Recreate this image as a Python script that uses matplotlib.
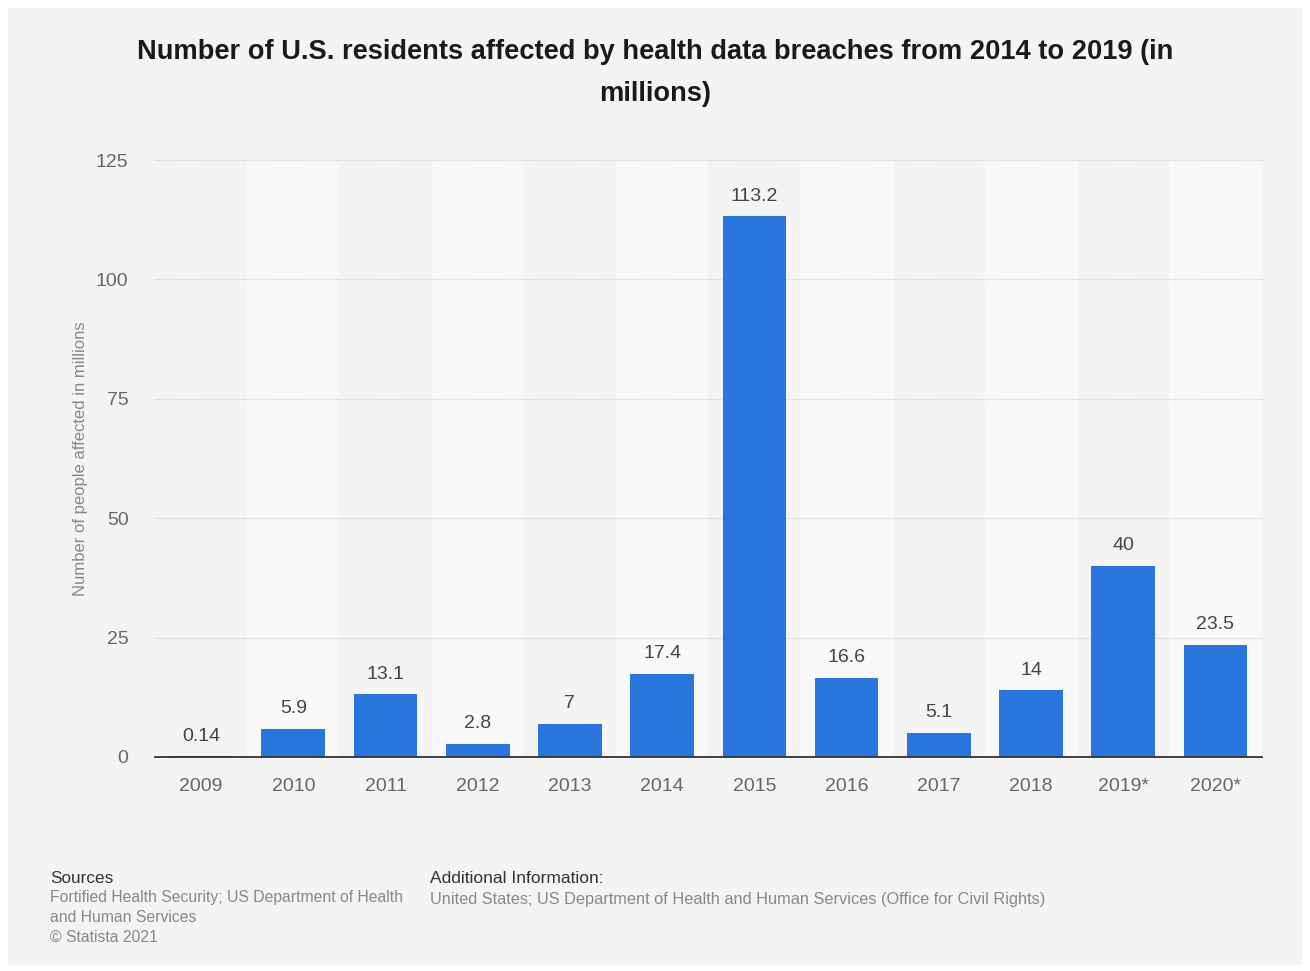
import matplotlib.pyplot as plt
import numpy as np
from matplotlib.patches import Rectangle

plt.rcParams['font.family'] = ['Liberation Sans', 'DejaVu Sans']

years = ['2009', '2010', '2011', '2012', '2013', '2014', '2015', '2016',
         '2017', '2018', '2019*', '2020*']
affected = [0.14, 5.9, 13.1, 2.8, 7, 17.4, 113.2, 16.6, 5.1, 14, 40, 23.5]
labels = ['0.14', '5.9', '13.1', '2.8', '7', '17.4', '113.2', '16.6',
          '5.1', '14', '40', '23.5']
yticks = [0, 25, 50, 75, 100, 125]

bg = '#f4f4f4'
fig = plt.figure(figsize=(13.1, 9.71), dpi=100)
fig.patch.set_facecolor('white')
fig.patches.append(Rectangle((8 / 1310, 6 / 971), 1294 / 1310, 957 / 971,
                             transform=fig.transFigure, facecolor=bg,
                             edgecolor='none', zorder=-10))

ax = fig.add_axes([0.1183, 0.2204, 0.8447, 0.6148])
ax.set_facecolor(bg)
x = np.arange(len(years))

# lighter stripes behind every other column
for i in x:
    if i % 2 == 1:
        ax.axvspan(i - 0.5, i + 0.5, color='#f9f9f9', zorder=0, lw=0)

ax.bar(x, affected, width=0.69, color='#2876dd', zorder=3)
for xi, v, t in zip(x, affected, labels):
    ax.text(xi, v + 2.4, t, ha='center', va='bottom', fontsize=14,
            color='#444444', zorder=4)

ax.set_xlim(-0.5, len(years) - 0.5)
ax.set_ylim(0, 125)
ax.set_yticks(yticks)
ax.set_xticks(x)
ax.set_xticklabels(years)
ax.grid(axis='y', color='#c8c8c8', linestyle=(0, (1, 1.5)), linewidth=0.8, zorder=1)
ax.set_axisbelow(True)
for s in ['top', 'right', 'left']:
    ax.spines[s].set_visible(False)
ax.spines['bottom'].set_color('#333333')
ax.spines['bottom'].set_linewidth(1.3)
ax.spines['bottom'].set_zorder(5)
ax.tick_params(axis='both', length=0, labelsize=14, labelcolor='#666666')
ax.tick_params(axis='x', pad=15)
ax.tick_params(axis='y', pad=19)
ax.set_ylabel('Number of people affected in millions', fontsize=12,
              color='#888888', labelpad=6)

title_kw = dict(ha='center', va='center', fontsize=19.6, fontweight='bold', color='#1a1a1a')
fig.text(0.5, 1 - 52 / 971, 'Number of U.S. residents affected by health data breaches from 2014 to 2019 (in', **title_kw)
fig.text(0.5, 1 - 94 / 971, 'millions)', **title_kw)

fig.text(50 / 1310, 1 - 878 / 971, 'Sources', fontsize=12.3, color='#333333', va='center')
fig.text(50 / 1310, 1 - 890 / 971,
         'Fortified Health Security; US Department of Health\nand Human Services\n\u00a9 Statista 2021',
         fontsize=11.3, color='#888888', va='top', linespacing=1.42)
fig.text(430 / 1310, 1 - 878 / 971, 'Additional Information:', fontsize=12.5,
         color='#333333', va='center')
fig.text(430 / 1310, 1 - 899 / 971,
         'United States; US Department of Health and Human Services (Office for Civil Rights)',
         fontsize=11.8, color='#888888', va='center')

fig.savefig('out.png', dpi=100, facecolor=fig.get_facecolor())
